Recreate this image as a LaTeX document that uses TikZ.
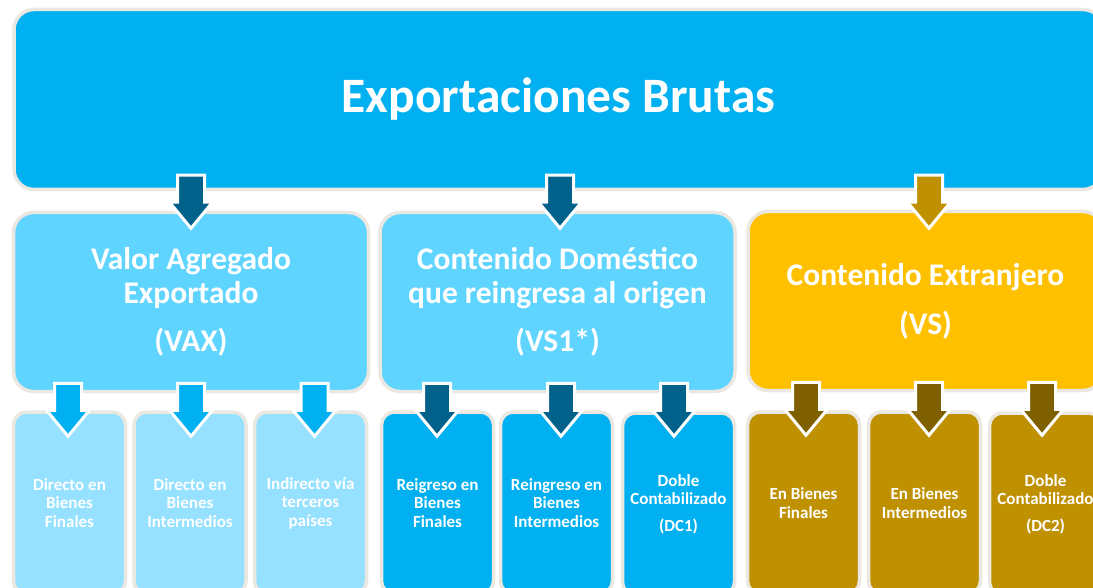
\documentclass[tikz,border=0pt]{standalone}
\usepackage{fontspec}
\setmainfont{Carlito}
\usetikzlibrary{calc}

\definecolor{skyblue}{HTML}{00B0F0}
\definecolor{paleblue}{HTML}{5FD4FF}
\definecolor{lightblue}{HTML}{95E1FF}
\definecolor{tealblue}{HTML}{00628B}
\definecolor{gold}{HTML}{FFC000}
\definecolor{darkgold}{HTML}{BF9000}
\definecolor{brown}{HTML}{7F6000}
\definecolor{boxline}{HTML}{EAE8E0}

\tikzset{
  box/.style={draw=boxline, line width=3.5pt, rounded corners=20pt, text=white,
    align=center, inner sep=0pt},
  midbox/.style={box, minimum width=355pt, minimum height=179pt,
    font=\bfseries\fontsize{31.5}{34}\selectfont},
  leafbox/.style={box, rounded corners=13pt, minimum width=112pt, minimum height=182pt,
    font=\bfseries\fontsize{17}{18.5}\selectfont},
  blockarrow/.style={draw=white, line width=3pt, line join=miter}
}

\begin{document}
\begin{tikzpicture}[x=1pt,y=-1pt]
\useasboundingbox (0,0) rectangle (1093,588);
\clip (0,0) rectangle (1093,588);

% top level
\node[box, fill=skyblue, minimum width=1089pt, minimum height=180pt,
  font=\bfseries\fontsize{49.5}{56}\selectfont] (brutas) at (558.5,99.5) {Exportaciones Brutas};

% second level
\node[midbox, fill=paleblue] (vax) at (191,302) {Valor Agregado\\Exportado\\[14pt](VAX)};
\node[midbox, fill=paleblue] (vsone) at (557.5,302) {Contenido Dom\'estico\\que reingresa al origen\\[14pt](VS1*)};
\node[midbox, fill=gold] (vs) at (925.5,301) {Contenido Extranjero\\[15pt](VS)};

% third level
\node[leafbox, fill=lightblue] (dirfin) at (69.5,503) {Directo en\\Bienes\\Finales};
\node[leafbox, fill=lightblue] (dirint) at (190,503) {Directo en\\Bienes\\Intermedios};
\node[leafbox, fill=lightblue] (indir) at (310.5,503) {Indirecto v\'ia\\terceros\\pa\'ises};

\node[leafbox, fill=skyblue] (reifin) at (437.5,503) {Reigreso en\\Bienes\\Finales};
\node[leafbox, fill=skyblue] (reiint) at (556.5,503) {Reingreso en\\Bienes\\Intermedios};
\node[leafbox, fill=skyblue] (dcone) at (678.5,504) {Doble\\Contabilizado\\[8pt](DC1)};

\node[leafbox, fill=darkgold] (extfin) at (803.5,503) {En Bienes\\Finales};
\node[leafbox, fill=darkgold] (extint) at (924.5,503) {En Bienes\\Intermedios};
\node[leafbox, fill=darkgold] (dctwo) at (1045.5,504) {Doble\\Contabilizado\\[8pt](DC2)};

% block arrows
\foreach \p/\c/\col/\dx/\dy in {brutas/vax/tealblue/0/-16, brutas/vsone/tealblue/2.5/-16,
    brutas/vs/darkgold/3.5/-16,
    vax/dirfin/skyblue/-1.5/-10, vax/dirint/skyblue/1/-10, vax/indir/skyblue/4/-10,
    vsone/reifin/tealblue/-0.5/-10, vsone/reiint/tealblue/4.5/-10, vsone/dcone/tealblue/-4.5/-10,
    vs/extfin/brown/2.5/-10, vs/extint/brown/4.5/-10, vs/dctwo/brown/-3.5/-10}
  \draw[blockarrow, fill=\col] (\p.south -| \c.north) ++(\dx-13.5,\dy) -- ++(27,0) -- ++(0,27)
    -- ++(8,0) -- ++(-21.5,26) -- ++(-21.5,-26) -- ++(8,0) -- cycle;

\end{tikzpicture}
\end{document}
